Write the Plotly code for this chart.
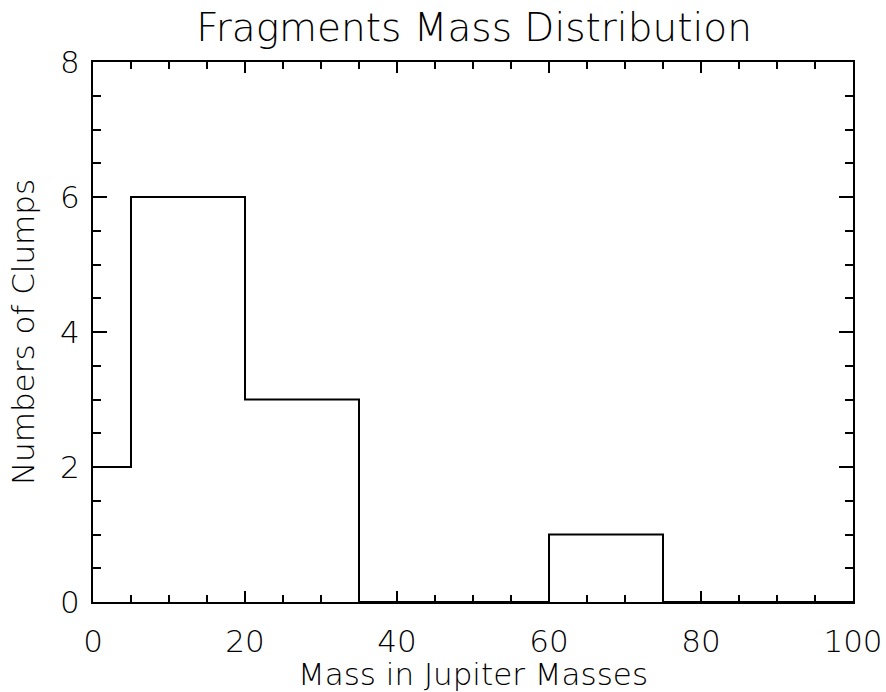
import plotly.graph_objects as go

# Histogram of fragment masses (bin edges in Jupiter masses, counts per bin)
bin_edges = [0, 5, 20, 35, 60, 75, 100]
counts = [2, 6, 3, 0, 1, 0]

x_ticks = [0, 20, 40, 60, 80, 100]
y_ticks = [0, 2, 4, 6, 8]

# step outline: each count held across its bin
step_x = bin_edges
step_y = counts + [counts[-1]]

FONT = "DejaVu Sans"
W = 200

fig = go.Figure()
fig.add_trace(go.Scatter(
    x=step_x, y=step_y, mode="lines", line_shape="hv",
    line=dict(color="black", width=2), showlegend=False, hoverinfo="skip",
))

axis_common = dict(
    showgrid=False, zeroline=False, showline=True, linecolor="black", linewidth=2,
    mirror="allticks", ticks="inside", tickcolor="black", tickwidth=1.5,
    automargin=False,
    tickfont=dict(family=FONT, size=31, color="black", weight=W),
)

fig.update_xaxes(
    range=[0, 100], tickvals=x_ticks, ticktext=[str(v) for v in x_ticks],
    ticklen=11, ticklabelstandoff=11,
    minor=dict(dtick=5, ticks="inside", ticklen=7, tickcolor="black", tickwidth=1.5),
    title=dict(text="Mass in Jupiter Masses", standoff=4,
               font=dict(family=FONT, size=31, color="black", weight=W)),
    **axis_common,
)
fig.update_yaxes(
    range=[0, 8], tickvals=y_ticks, ticktext=[str(v) for v in y_ticks],
    ticklen=14, ticklabelstandoff=5,
    minor=dict(dtick=0.5, ticks="inside", ticklen=8, tickcolor="black", tickwidth=1.5),
    title=dict(text="Numbers of Clumps", standoff=16,
               font=dict(family=FONT, size=31, color="black", weight=W)),
    **axis_common,
)

fig.update_layout(
    width=886, height=692,
    margin=dict(l=93, r=33, t=62, b=90),
    paper_bgcolor="white", plot_bgcolor="white",
    title=dict(text="Fragments Mass Distribution", x=0.535, xanchor="center",
               y=0.96, yanchor="middle",
               font=dict(family=FONT, size=39, color="black", weight=W)),
)

fig.write_html("out.html")
